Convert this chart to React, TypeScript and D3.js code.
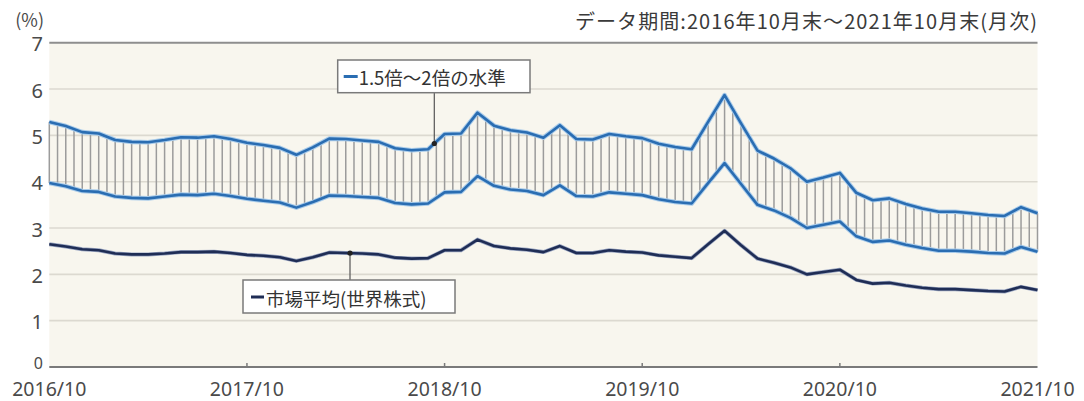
import React from 'react';
import * as d3 from 'd3';

// 2016/10 .. 2021/10 month-end (61 monthly points)
const startYear = 2016;
const startMonth = 10;

// 2x level (upper bound of band)
const upper2x = [
  5.29, 5.20, 5.07, 5.04, 4.90, 4.86, 4.85, 4.90, 4.96, 4.95, 4.98, 4.92,
  4.84, 4.79, 4.73, 4.58, 4.74, 4.93, 4.92, 4.89, 4.86, 4.72, 4.68, 4.70,
  5.03, 5.04, 5.49, 5.21, 5.11, 5.06, 4.95, 5.22, 4.92, 4.91, 5.03, 4.98,
  4.94, 4.82, 4.75, 4.70, 5.29, 5.87, 5.26, 4.67, 4.50, 4.29, 4.00, 4.09,
  4.19, 3.76, 3.60, 3.64, 3.52, 3.42, 3.35, 3.35, 3.32, 3.28, 3.26, 3.45,
  3.32,
];

// 1.5x level (lower bound of band)
const lower15x = [
  3.97, 3.90, 3.80, 3.78, 3.68, 3.65, 3.64, 3.68, 3.72, 3.71, 3.74, 3.69,
  3.63, 3.59, 3.55, 3.44, 3.56, 3.70, 3.69, 3.67, 3.65, 3.54, 3.51, 3.53,
  3.77, 3.78, 4.12, 3.91, 3.83, 3.80, 3.71, 3.92, 3.69, 3.68, 3.77, 3.74,
  3.71, 3.62, 3.56, 3.53, 3.97, 4.40, 3.95, 3.50, 3.38, 3.22, 3.00, 3.07,
  3.14, 2.82, 2.70, 2.73, 2.64, 2.57, 2.51, 2.51, 2.49, 2.46, 2.45, 2.59,
  2.49,
];

// Market average (world equities)
const marketAvg = [
  2.65, 2.60, 2.54, 2.52, 2.45, 2.43, 2.43, 2.45, 2.48, 2.48, 2.49, 2.46,
  2.42, 2.40, 2.37, 2.29, 2.37, 2.47, 2.46, 2.45, 2.43, 2.36, 2.34, 2.35,
  2.52, 2.52, 2.75, 2.61, 2.56, 2.53, 2.48, 2.61, 2.46, 2.46, 2.52, 2.49,
  2.47, 2.41, 2.38, 2.35, 2.65, 2.94, 2.63, 2.34, 2.25, 2.15, 2.00, 2.05,
  2.10, 1.88, 1.80, 1.82, 1.76, 1.71, 1.68, 1.68, 1.66, 1.64, 1.63, 1.73,
  1.66,
];

const xTickLabels = ['2016/10', '2017/10', '2018/10', '2019/10', '2020/10', '2021/10'];
const yTicks = [0, 1, 2, 3, 4, 5, 6, 7];

const titleText = 'データ期間:2016年10月末～2021年10月末(月次)';
const unitText = '(%)';
const bandLabel = '1.5倍～2倍の水準';
const marketLabel = '市場平均(世界株式)';

const W = 1084;
const H = 401;
const FONT = '"Noto Sans CJK JP", "Noto Sans", sans-serif';
const NUM_FONT = '"Noto Sans", "Noto Sans CJK JP", sans-serif';
const BAND_BLUE = '#2a6db2';
const BAND_HALO = '#a8cbea';
const NAVY = '#1f2d55';
const HATCH = '#9b9b9b';

export default function App() {
  const n = upper2x.length;
  const x = d3.scaleLinear().domain([0, n - 1]).range([49.3, 1037.5]);
  const y = d3.scaleLinear().domain([0, 7]).range([367, 42.7]);

  const line = d3
    .line<number>()
    .x((_, i) => x(i))
    .y((d) => y(d))
    .curve(d3.curveLinear);

  const interp = (arr: number[], t: number) => {
    const i0 = Math.max(0, Math.min(arr.length - 2, Math.floor(t)));
    const f = t - i0;
    return arr[i0] * (1 - f) + arr[i0 + 1] * f;
  };

  // hatching: vertical strokes every half month between the band lines
  const hatch = d3.range(0, (n - 1) * 2 + 1).map((k) => {
    const t = k / 2;
    return { t, up: interp(upper2x, t), lo: interp(lower15x, t) };
  });

  const tickIdx = xTickLabels.map((lab) => {
    const [yy, mm] = lab.split('/').map(Number);
    return (yy - startYear) * 12 + (mm - startMonth);
  });

  // annotation anchors
  const bandAnchorX = 434.3;
  const bandT = x.invert(bandAnchorX);
  const bandDotY = y(interp(upper2x, bandT));
  const mktAnchorX = 350;
  const mktT = x.invert(mktAnchorX);
  const mktDotY = y(interp(marketAvg, mktT));

  const box1 = { x: 337.7, y: 60, w: 192.3, h: 32.7 };
  const box2 = { x: 243, y: 280, w: 212, h: 33 };

  return (
    <svg
      width={W}
      height={H}
      style={{ position: 'absolute', left: 0, top: 0, background: '#fff' }}
      fontFamily={FONT}
    >
      {/* plot background */}
      <rect x={x(0)} y={y(7)} width={x(n - 1) - x(0)} height={y(0) - y(7)} fill="#f8f6ee" />

      {/* grid */}
      {yTicks
        .filter((v) => v > 0 && v < 7)
        .map((v) => (
          <line key={v} x1={x(0)} x2={x(n - 1)} y1={y(v)} y2={y(v)} stroke="#dcd9d0" strokeWidth={1.6} />
        ))}
      <line x1={x(0)} x2={x(n - 1)} y1={y(7)} y2={y(7)} stroke="#8e8e8e" strokeWidth={2} />

      {/* hatch */}
      {hatch.map((h) => (
        <line
          key={h.t}
          x1={x(h.t)}
          x2={x(h.t)}
          y1={y(h.up)}
          y2={y(h.lo)}
          stroke={HATCH}
          strokeWidth={1.5}
        />
      ))}

      {/* band lines */}
      {[upper2x, lower15x].map((arr, k) => (
        <g key={k}>
          <path d={line(arr) || ''} fill="none" stroke={BAND_HALO} strokeWidth={4.6} strokeLinejoin="round" />
          <path d={line(arr) || ''} fill="none" stroke={BAND_BLUE} strokeWidth={2.6} strokeLinejoin="round" />
        </g>
      ))}

      {/* market avg */}
      <path d={line(marketAvg) || ''} fill="none" stroke="#9aa6c2" strokeWidth={4} strokeLinejoin="round" />
      <path d={line(marketAvg) || ''} fill="none" stroke={NAVY} strokeWidth={2.6} strokeLinejoin="round" />

      {/* x axis */}
      <line x1={x(0)} x2={x(n - 1)} y1={y(0)} y2={y(0)} stroke="#7a7a7a" strokeWidth={2} />
      {tickIdx.slice(1, -1).map((ti) => (
        <line key={ti} x1={x(ti)} x2={x(ti)} y1={y(0)} y2={y(0) - 4} stroke="#7a7a7a" strokeWidth={1.5} />
      ))}
      {xTickLabels.map((lab, k) => (
        <text key={lab} x={x(tickIdx[k])} y={396} textAnchor="middle" fontSize={19.5} fill="#4a4a4a" fontFamily={NUM_FONT}>
          {lab}
        </text>
      ))}

      {/* y labels */}
      {yTicks.map((v) => (
        <text
          key={v}
          x={43}
          y={v === 0 ? y(v) - 4 : y(v) + 1}
          textAnchor="end"
          dominantBaseline="central"
          fontSize={v === 0 ? 16 : 20}
          fill="#4a4a4a"
          fontFamily={NUM_FONT}
        >
          {v}
        </text>
      ))}
      <text x={44} y={27} textAnchor="end" fontSize={18} fill="#4a4a4a">
        {unitText}
      </text>

      {/* title */}
      <text x={1037} y={29} textAnchor="end" fontSize={20} fill="#3a3a3a" textLength={462} lengthAdjust="spacing">
        {titleText}
      </text>

      {/* annotation: band */}
      <line x1={bandAnchorX} x2={bandAnchorX} y1={box1.y + box1.h} y2={bandDotY} stroke="#555" strokeWidth={1.2} />
      <circle cx={bandAnchorX} cy={bandDotY} r={2.6} fill="#222" />
      <rect x={box1.x} y={box1.y} width={box1.w} height={box1.h} fill="#fff" stroke="#7a7a7a" strokeWidth={1.5} />
      <line x1={box1.x + 6} x2={box1.x + 20} y1={box1.y + 16.5} y2={box1.y + 16.5} stroke={BAND_BLUE} strokeWidth={3} />
      <text x={box1.x + 21} y={box1.y + 17} dominantBaseline="central" fontSize={18.5} fill="#333">
        {bandLabel}
      </text>

      {/* annotation: market */}
      <line x1={mktAnchorX} x2={mktAnchorX} y1={mktDotY} y2={box2.y} stroke="#555" strokeWidth={1.2} />
      <circle cx={mktAnchorX} cy={mktDotY} r={2.6} fill="#222" />
      <rect x={box2.x} y={box2.y} width={box2.w} height={box2.h} fill="#fff" stroke="#7a7a7a" strokeWidth={1.5} />
      <line x1={box2.x + 8} x2={box2.x + 21} y1={box2.y + 17} y2={box2.y + 17} stroke={NAVY} strokeWidth={3} />
      <text x={box2.x + 23} y={box2.y + 17.5} dominantBaseline="central" fontSize={18.5} fill="#333">
        {marketLabel}
      </text>
    </svg>
  );
}
